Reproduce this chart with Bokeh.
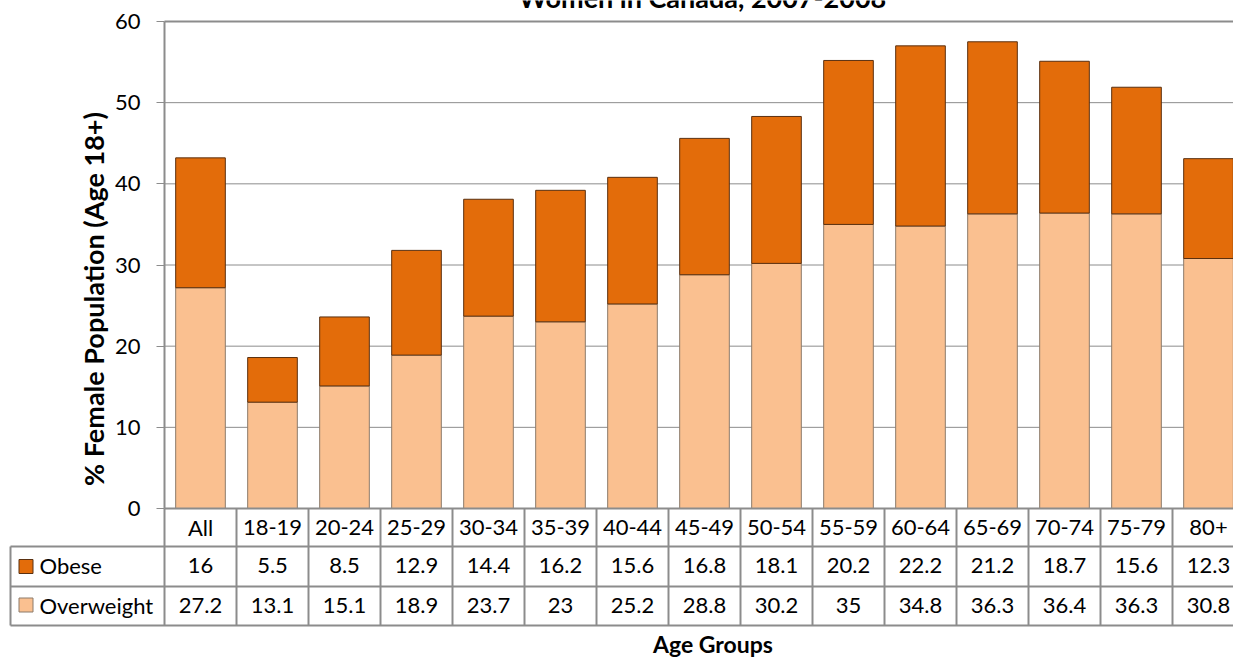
import math
from bokeh.plotting import figure
from bokeh.models import Range1d, LinearAxis, FixedTicker
from bokeh.core.properties import value
from bokeh.embed import file_html
from bokeh.resources import INLINE

# ---------------- data ----------------
categories = ["All", "18-19", "20-24", "25-29", "30-34", "35-39", "40-44", "45-49",
              "50-54", "55-59", "60-64", "65-69", "70-74", "75-79", "80+"]
obese = [16, 5.5, 8.5, 12.9, 14.4, 16.2, 15.6, 16.8, 18.1, 20.2, 22.2, 21.2, 18.7, 15.6, 12.3]
overweight = [27.2, 13.1, 15.1, 18.9, 23.7, 23, 25.2, 28.8, 30.2, 35, 34.8, 36.3, 36.4, 36.3, 30.8]
series_names = ["Obese", "Overweight"]
y_ticks = [0, 10, 20, 30, 40, 50, 60]
title_text = "Women in Canada, 2007-2008"
y_title = "% Female Population (Age 18+)"
x_title = "Age Groups"

# ---------------- styles / layout ----------------
OBESE_C = "#E36C0A"
OVER_C = "#FAC090"
GRID_C = "#8c8c8c"
FONT = value("Lato")
FSN = 22
FS = f"{FSN}px"

W, H = 1233, 658
X0_PX, COL_PX = 164, 72.0             # canvas x of the first column, column width
Y0_PX, Y_PER = 508, 487 / 60          # canvas y of value 0, px per unit

def dx(px):  # canvas x -> data x
    return (px - X0_PX) / COL_PX

def dy(py):  # canvas y -> data y
    return (Y0_PX - py) / Y_PER

def base(py, fs):  # wanted alphabetic baseline -> y passed to the text glyph
    return dy(py - 0.36 * fs)

n = len(categories)
xs = [i + 0.5 for i in range(n)]
totals = [a + b for a, b in zip(overweight, obese)]

p = figure(width=W, height=H, output_backend="svg", toolbar_location=None,
           x_range=Range1d(dx(0), dx(W)), y_range=Range1d(dy(H), dy(0)),
           x_axis_location=None, y_axis_location=None, min_border=0)
p.outline_line_color = None
p.xgrid.visible = False
p.ygrid.visible = False
p.background_fill_color = "white"
p.border_fill_color = "white"
p.styles = {"margin-bottom": "-8px"}

# gridlines inside the plot area
grid_vals = y_ticks[1:-1]
p.segment(x0=[0] * len(grid_vals), x1=[n] * len(grid_vals), y0=grid_vals, y1=grid_vals,
          line_color=GRID_C, line_width=1)
# plot area top border
p.segment(x0=[0], x1=[n], y0=[y_ticks[-1]], y1=[y_ticks[-1]], line_color=GRID_C, line_width=2)

# stacked bars
BW = 50 / 72.5
p.vbar(x=xs, bottom=0, top=overweight, width=BW, fill_color=OVER_C,
       line_color="#8c7b6b", line_width=1)
p.vbar(x=xs, bottom=overweight, top=totals, width=BW, fill_color=OBESE_C,
       line_color="#5a3010", line_width=1)

# y axis
yax = LinearAxis(fixed_location=0, bounds=(y_ticks[0], y_ticks[-1]),
                 ticker=FixedTicker(ticks=y_ticks))
yax.axis_line_color = GRID_C
yax.axis_line_width = 2
yax.major_tick_line_color = GRID_C
yax.major_tick_line_width = 1
yax.major_tick_out = 8
yax.major_tick_in = 0
yax.minor_tick_line_color = None
yax.major_label_standoff = 16
yax.major_label_text_font = "Lato"
yax.major_label_text_font_size = FS
yax.major_label_text_color = "black"
p.add_layout(yax, "left")

# ---------------- data table ----------------
row_edges = [508, 546, 586, 625]        # canvas y of table row boundaries
row_base = [535, 573, 612.5]            # text baselines
tbl_top, tbl_bot = dy(row_edges[0]), dy(row_edges[-1])
# vertical column lines
p.segment(x0=list(range(n + 1)), x1=list(range(n + 1)), y0=[tbl_top] * (n + 1),
          y1=[tbl_bot] * (n + 1), line_color=GRID_C, line_width=2)
# horizontal lines
p.segment(x0=[0], x1=[n], y0=[tbl_top], y1=[tbl_top], line_color=GRID_C, line_width=2)
hl = [dy(v) for v in row_edges[1:]]
p.segment(x0=[dx(10)] * 3, x1=[n] * 3, y0=hl, y1=hl, line_color=GRID_C, line_width=2)
p.segment(x0=[dx(10)], x1=[dx(10)], y0=[dy(row_edges[1])], y1=[tbl_bot],
          line_color=GRID_C, line_width=2)

def fmt(v):
    return f"{v:g}"

p.text(x=xs, y=[base(row_base[0], FSN)] * n, text=categories, text_align="center",
       text_baseline="alphabetic", text_font=FONT, text_font_size=FS, text_color="black")
p.text(x=xs, y=[base(row_base[1], FSN)] * n, text=[fmt(v) for v in obese], text_align="center",
       text_baseline="alphabetic", text_font=FONT, text_font_size=FS, text_color="black")
p.text(x=xs, y=[base(row_base[2], FSN)] * n, text=[fmt(v) for v in overweight],
       text_align="center", text_baseline="alphabetic", text_font=FONT,
       text_font_size=FS, text_color="black")

# legend keys in the table
p.scatter(x=[dx(25.5)] * 2, y=[dy(566), dy(604.5)], marker="square", size=14,
          fill_color=[OBESE_C, OVER_C], line_color=["#5a3010", "#8c7b6b"], line_width=1)
p.text(x=[dx(39)] * 2, y=[base(row_base[1], FSN), base(row_base[2], FSN)], text=series_names,
       text_align="left", text_baseline="alphabetic", text_font=FONT,
       text_font_size=FS, text_color="black")

# ---------------- titles ----------------
p.text(x=[dx(702)], y=[base(7, 27)], text=[title_text], text_align="center",
       text_baseline="alphabetic", text_font=FONT, text_font_size="27px",
       text_font_style="bold", text_color="black")
p.text(x=[dx(93)], y=[dy(298.5)], text=[y_title], angle=math.pi / 2, text_align="center",
       text_baseline="middle", text_font=FONT, text_font_size="27px",
       text_font_style="bold", text_color="black")
p.text(x=[dx(712.5)], y=[base(652, 23)], text=[x_title], text_align="center",
       text_baseline="alphabetic", text_font=FONT, text_font_size="23px",
       text_font_style="bold", text_color="black")

open("out.html", "w").write(file_html(p, INLINE))
